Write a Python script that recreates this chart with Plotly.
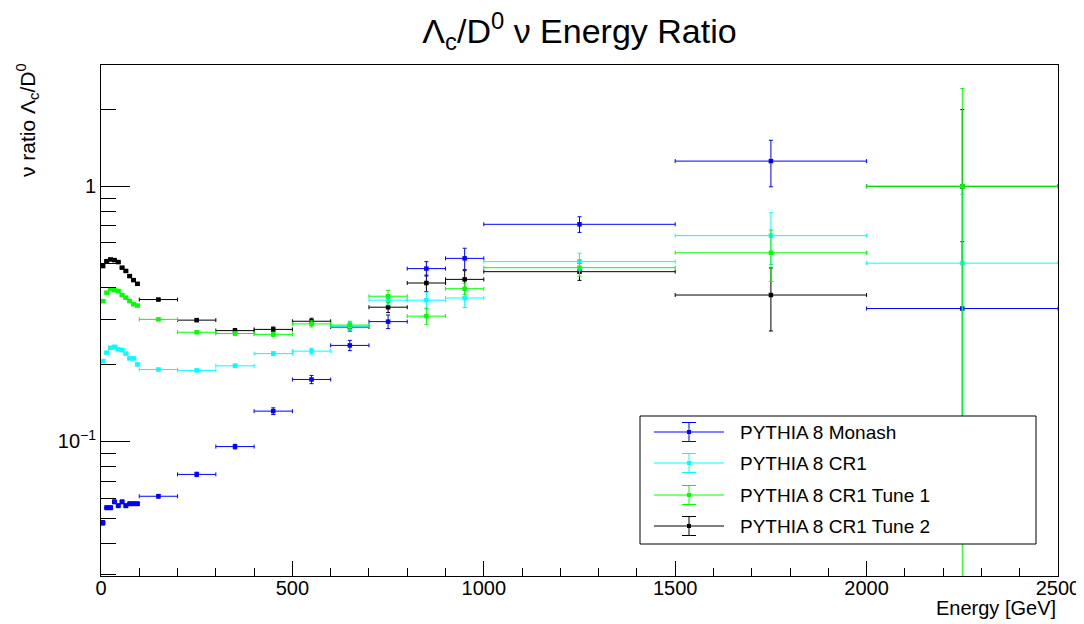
import numpy as np
import plotly.graph_objects as go

# ---------------- data ----------------
bin_edges = [0, 10, 20, 30, 40, 50, 60, 70, 80, 90, 100, 200, 300, 400, 500,
             600, 700, 800, 900, 1000, 1500, 2000, 2500]

monash = [0.048, 0.055, 0.055, 0.058, 0.056, 0.058, 0.056, 0.057, 0.057, 0.057,
          0.061, 0.0743, 0.0955, 0.1315, 0.175, 0.238, 0.295, 0.476, 0.522,
          0.710, 1.256, 0.332]
monash_err = [0.001, 0.001, 0.001, 0.001, 0.001, 0.001, 0.001, 0.001, 0.001, 0.001,
              0.001, 0.0015, 0.002, 0.004, 0.0065, 0.011, 0.018, 0.031, 0.05,
              0.05, 0.26, 0.275]

cr1 = [0.2065, 0.223, 0.233, 0.235, 0.2296, 0.228, 0.221, 0.2116, 0.2116, 0.2004,
       0.1915, 0.190, 0.198, 0.221, 0.226, 0.283, 0.358, 0.358, 0.365,
       0.507, 0.641, 0.500]
cr1_err = [0.002, 0.002, 0.002, 0.002, 0.002, 0.002, 0.002, 0.002, 0.002, 0.002,
           0.002, 0.002, 0.003, 0.004, 0.006, 0.01, 0.015, 0.027, 0.03,
           0.04, 0.147, 0.43]

tune1 = [0.355, 0.383, 0.395, 0.392, 0.389, 0.375, 0.366, 0.355, 0.345, 0.341,
         0.301, 0.268, 0.265, 0.263, 0.289, 0.286, 0.371, 0.310, 0.397,
         0.480, 0.549, 1.0]
tune1_err = [0.003, 0.003, 0.003, 0.003, 0.003, 0.003, 0.003, 0.003, 0.003, 0.003,
             0.003, 0.003, 0.004, 0.005, 0.008, 0.01, 0.02, 0.023, 0.02,
             0.035, 0.125, 1.42]

tune2 = [0.487, 0.509, 0.517, 0.514, 0.505, 0.480, 0.466, 0.445, 0.429, 0.415,
         0.360, 0.299, 0.272, 0.275, 0.296, 0.281, 0.336, 0.418, 0.432,
         0.463, 0.375, 1.0]
tune2_err_up = [0.004, 0.004, 0.004, 0.004, 0.004, 0.004, 0.004, 0.004, 0.004, 0.004,
                0.004, 0.004, 0.005, 0.006, 0.008, 0.01, 0.016, 0.031, 0.035,
                0.035, 0.104, 1.0]
# lower part of the last black bar is hidden behind the green one
tune2_err_down = [0.004, 0.004, 0.004, 0.004, 0.004, 0.004, 0.004, 0.004, 0.004, 0.004,
                  0.004, 0.004, 0.005, 0.006, 0.008, 0.01, 0.016, 0.031, 0.035,
                  0.035, 0.104, 0.5]

series_names = ["PYTHIA 8 Monash", "PYTHIA 8 CR1", "PYTHIA 8 CR1 Tune 1", "PYTHIA 8 CR1 Tune 2"]
series_colors = ["#0000ff", "#00ffff", "#00ff00", "#000000"]

x_tickvals = [0, 500, 1000, 1500, 2000, 2500]
y_tickvals = [0.1, 1]
y_ticktext = ["10<sup>\u22121</sup>", "1"]
y_minor_vals = [0.03, 0.04, 0.05, 0.06, 0.07, 0.08, 0.09,
                0.2, 0.3, 0.4, 0.5, 0.6, 0.7, 0.8, 0.9, 2, 3]

# ---------------- layout geometry (screen pixels) ----------------
W, H = 1084, 624
OFF = 8  # page body margin
L, R, T, B = 101, 1058, 65, 576
FONT = "Liberation Sans, Arial, Helvetica, sans-serif"


def px(xp):
    return (xp - L) / (R - L)


def py(yp):
    return (B - yp) / (B - T)


edges = np.array(bin_edges, dtype=float)
centers = (edges[:-1] + edges[1:]) / 2
half = (edges[1:] - edges[:-1]) / 2

fig = go.Figure()

all_series = [
    (monash, monash_err, monash_err),
    (cr1, cr1_err, cr1_err),
    (tune1, tune1_err, tune1_err),
    (tune2, tune2_err_up, tune2_err_down),
]
draw_order = [3, 0, 1, 2]
for k in draw_order:
    vals, eup, edn = all_series[k]
    v = np.array(vals)
    e = np.array(eup)
    e_minus = np.minimum(np.array(edn), v * 0.999)
    c = series_colors[k]
    fig.add_trace(go.Scatter(
        x=centers, y=v, mode="markers", name=series_names[k],
        marker=dict(symbol="square", size=4.5, color=c, line=dict(width=0)),
        error_x=dict(type="data", array=half, color=c, thickness=1, width=2),
        error_y=dict(type="data", array=e, arrayminus=e_minus, symmetric=False,
                     color=c, thickness=1, width=2),
        showlegend=False,
    ))

fig.update_layout(
    width=W, height=H,
    margin=dict(l=L - OFF, r=W + OFF - R, t=T - OFF, b=H + OFF - B, pad=0),
    paper_bgcolor="white", plot_bgcolor="white",
    font=dict(family=FONT, color="black"),
    title=dict(text="\u039b<sub>c</sub>/D<sup>0</sup> \u03bd Energy Ratio",
               x=0.5, xref="paper", xanchor="center",
               y=1 - (31 - OFF) / H, yref="container", yanchor="middle",
               font=dict(size=34, family=FONT, color="black")),
    xaxis=dict(range=[0, 2500], tickmode="array", tickvals=x_tickvals,
               ticks="inside", ticklen=15, tickcolor="black", tickwidth=1,
               showline=True, mirror=True, linecolor="black", linewidth=1,
               showgrid=False, zeroline=False, ticklabelstandoff=-6,
               tickfont=dict(size=20, family=FONT, color="black"),
               minor=dict(tickmode="linear", tick0=0, dtick=100, ticks="inside",
                          ticklen=8, tickcolor="black", tickwidth=1, showgrid=False)),
    yaxis=dict(type="log", range=[np.log10(0.0297), np.log10(2.99)],
               tickmode="array", tickvals=y_tickvals, ticktext=y_ticktext,
               ticks="inside", ticklen=29, tickcolor="black", tickwidth=1,
               showline=True, mirror=True, linecolor="black", linewidth=1,
               showgrid=False, zeroline=False,
               tickfont=dict(size=20, family=FONT, color="black"),
               minor=dict(tickmode="array", tickvals=y_minor_vals, ticks="inside",
                          ticklen=15, tickcolor="black", tickwidth=1, showgrid=False)),
)

# axis titles
fig.add_annotation(text="\u03bd ratio \u039b<sub>c</sub>/D<sup>0</sup>", textangle=-90,
                   xref="paper", yref="paper", x=px(27), y=py(61),
                   xanchor="center", yanchor="top", showarrow=False,
                   font=dict(size=21, family=FONT, color="black"))
fig.add_annotation(text="Energy [GeV]", xref="paper", yref="paper",
                   x=px(1058), y=py(608), xanchor="right", yanchor="middle",
                   showarrow=False, font=dict(size=20, family=FONT, color="black"))

# legend (drawn manually, ROOT style)
shapes = []
shapes.append(dict(type="rect", xref="paper", yref="paper", layer="above",
                   x0=px(640), x1=px(1036), y0=py(544), y1=py(416),
                   fillcolor="white", line=dict(color="black", width=1)))
leg_rows = [432, 463, 495, 526]
for k in range(4):
    c = series_colors[k]
    yy = leg_rows[k]
    shapes.append(dict(type="line", xref="paper", yref="paper", layer="above",
                       x0=px(654), x1=px(724), y0=py(yy), y1=py(yy),
                       line=dict(color=c, width=1)))
    shapes.append(dict(type="line", xref="paper", yref="paper", layer="above",
                       x0=px(689), x1=px(689), y0=py(yy - 9.5), y1=py(yy + 9.5),
                       line=dict(color=c, width=1)))
    for dy in (-9.5, 9.5):
        shapes.append(dict(type="line", xref="paper", yref="paper", layer="above",
                           x0=px(682), x1=px(696), y0=py(yy + dy), y1=py(yy + dy),
                           line=dict(color=c, width=1)))
    shapes.append(dict(type="rect", xref="paper", yref="paper", layer="above",
                       x0=px(687), x1=px(691), y0=py(yy + 2), y1=py(yy - 2),
                       fillcolor=c, line=dict(color=c, width=0)))
    fig.add_annotation(text=series_names[k], xref="paper", yref="paper",
                       x=px(738), y=py(yy), xanchor="left", yanchor="middle",
                       showarrow=False, font=dict(size=19, family=FONT, color="black"))
fig.update_layout(shapes=shapes)

fig.write_html("out.html")
